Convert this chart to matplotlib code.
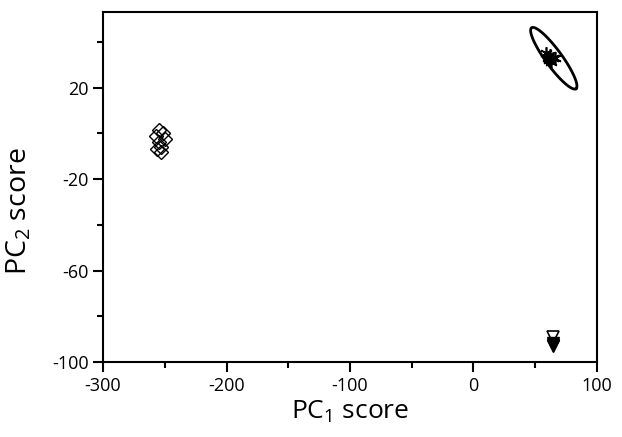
import numpy as np
import matplotlib
matplotlib.use("Agg")
import matplotlib.pyplot as plt
from matplotlib.ticker import MultipleLocator

plt.rcParams['font.family'] = ['Open Sans', 'DejaVu Sans']
plt.rcParams['mathtext.fontset'] = 'custom'
plt.rcParams['mathtext.rm'] = 'Open Sans'
plt.rcParams['axes.unicode_minus'] = False

# Group 1 (open diamonds)
g1_x = [-254.9, -251.6, -257.4, -250.0, -254.9, -253.3, -256.6, -253.3]
g1_y = [1.6, -0.1, -1.4, -2.7, -4.0, -5.8, -7.1, -8.0]
# Group 2 (asterisks)
g2_x = [59, 62, 64, 61, 63, 66, 60, 62]
g2_y = [35, 34, 33, 32, 31, 33, 33, 32.5]
# Group 3 (triangles)
g3_open_x = [64]
g3_open_y = [-89]
g3_fill_x = [64, 64, 64.5]
g3_fill_y = [-91.5, -92.5, -93]
# Confidence ellipse for group 2: centre, major and minor semi-axis vectors (data units)
ell_center = (65.0, 32.8)
ell_major = (18.0, -13.3)
ell_minor = (5.3, 2.2)

fig = plt.figure(figsize=(6.22, 4.37), dpi=100)
ax = fig.add_axes([0.1656, 0.1716, 0.7942, 0.8009])

ax.plot(g1_x, g1_y, linestyle='none', marker='D', markersize=7,
        markerfacecolor='none', markeredgecolor='black', markeredgewidth=1.0)
ax.plot(g2_x, g2_y, linestyle='none', marker=(6, 2, 0), markersize=9,
        color='black', markeredgewidth=1.2)
ax.plot(g3_fill_x, g3_fill_y, linestyle='none', marker='v', markersize=9,
        color='black')
ax.plot(g3_open_x, g3_open_y, linestyle='none', marker='v', markersize=9,
        markerfacecolor='none', markeredgecolor='black', markeredgewidth=1.2)

t = np.linspace(0, 2 * np.pi, 200)
ex = ell_center[0] + ell_major[0] * np.cos(t) + ell_minor[0] * np.sin(t)
ey = ell_center[1] + ell_major[1] * np.cos(t) + ell_minor[1] * np.sin(t)
ax.plot(ex, ey, color='black', linewidth=2.0)

ax.set_xlim(-300, 100)
ax.set_ylim(-100, 53)
ax.set_xticks([-300, -200, -100, 0, 100])
ax.set_yticks([-100, -60, -20, 20])
ax.xaxis.set_minor_locator(MultipleLocator(50))
ax.yaxis.set_minor_locator(MultipleLocator(20))
ax.tick_params(which='major', direction='out', length=7, width=1.5, labelsize=13)
ax.tick_params(which='minor', direction='out', length=4, width=1.5)
for s in ax.spines.values():
    s.set_linewidth(1.5)

ax.set_xlabel(r'PC$_\mathregular{1}$ score', fontsize=19, labelpad=3)
ax.set_ylabel(r'PC$_\mathregular{2}$ score', fontsize=20.5)
ax.yaxis.set_label_coords(-0.142, 0.431)

fig.savefig('out.png', dpi=100)
